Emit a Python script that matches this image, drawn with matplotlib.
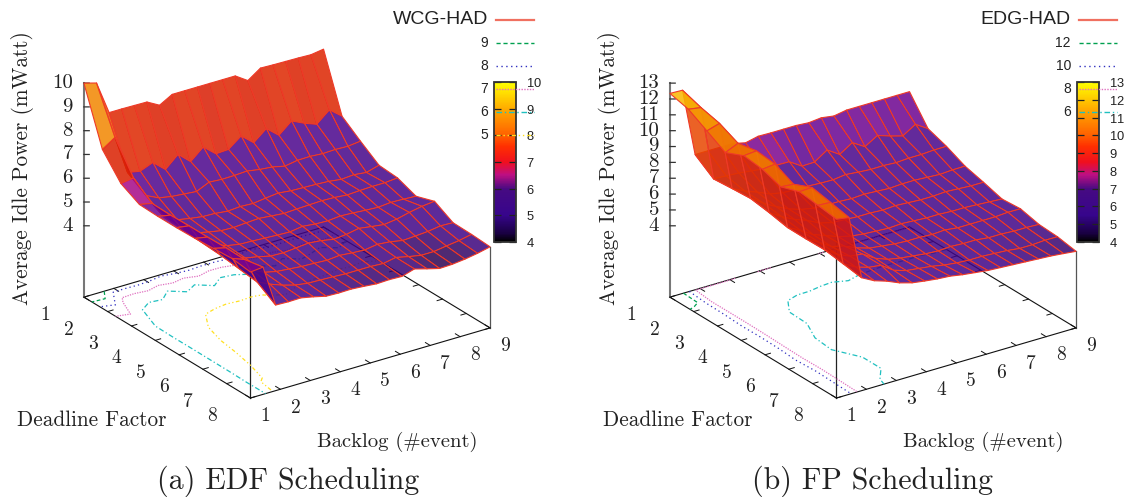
import matplotlib
matplotlib.use('Agg')
import numpy as np
import matplotlib.pyplot as plt
from matplotlib.colors import LinearSegmentedColormap, Normalize
from matplotlib.cm import ScalarMappable
from matplotlib.lines import Line2D
from mpl_toolkits.mplot3d import proj3d

W, H = 1133, 497

deadline = np.linspace(1, 8, 10)
backlog = np.linspace(1, 9, 20)

deadline_ticks = [1, 2, 3, 4, 5, 6, 7, 8]
backlog_ticks = [1, 2, 3, 4, 5, 6, 7, 8, 9]

power_edf = np.array([
    [10.0, 9.85, 8.45, 8.45, 8.44, 8.43, 8.14, 8.44, 8.44, 8.44, 8.44, 8.44, 8.44, 8.09, 8.46, 8.44, 8.43, 8.42, 8.40, 8.48],
    [7.68, 8.03, 6.40, 6.30, 6.51, 6.06, 6.54, 6.08, 6.54, 6.10, 6.13, 6.54, 6.10, 6.54, 6.10, 6.55, 6.30, 6.10, 6.55, 6.13],
    [6.72, 6.80, 5.90, 5.65, 5.55, 5.50, 5.45, 5.69, 5.65, 5.66, 5.69, 5.60, 5.55, 5.43, 5.52, 5.53, 5.49, 5.51, 5.49, 5.55],
    [6.31, 6.20, 5.45, 5.20, 5.10, 5.02, 5.00, 4.94, 4.98, 4.95, 5.02, 5.08, 5.02, 5.00, 4.98, 4.95, 4.88, 4.92, 4.86, 5.01],
    [6.28, 6.18, 5.40, 5.12, 5.00, 4.90, 4.88, 4.92, 4.95, 4.90, 4.85, 4.88, 4.90, 4.92, 4.90, 4.85, 4.88, 4.90, 4.90, 4.95],
    [6.28, 6.20, 5.35, 5.10, 4.90, 4.80, 4.78, 4.75, 4.72, 4.70, 4.78, 4.72, 4.70, 4.75, 4.72, 4.68, 4.65, 4.70, 4.68, 4.65],
    [6.30, 6.20, 5.30, 5.05, 4.85, 4.75, 4.62, 4.60, 4.65, 4.70, 4.65, 4.55, 4.60, 4.70, 4.62, 4.55, 4.62, 4.75, 4.85, 4.91],
    [6.35, 6.22, 5.20, 4.98, 4.72, 4.60, 4.55, 4.50, 4.48, 4.45, 4.50, 4.45, 4.42, 4.50, 4.45, 4.35, 4.38, 4.42, 4.50, 4.48],
    [6.40, 6.20, 5.10, 4.85, 4.65, 4.50, 4.42, 4.40, 4.38, 4.35, 4.35, 4.35, 4.32, 4.42, 4.30, 4.20, 4.20, 4.28, 4.35, 4.46],
    [6.30, 6.35, 4.60, 4.58, 4.59, 4.48, 4.35, 4.33, 4.34, 4.30, 4.25, 4.27, 4.25, 4.41, 4.26, 4.12, 4.14, 4.20, 4.29, 4.41],
])

power_fp = np.array([
    [12.35, 12.32, 8.03, 8.03, 8.03, 8.03, 7.84, 8.02, 8.00, 8.00, 8.00, 7.94, 8.02, 7.90, 8.04, 8.04, 8.04, 8.04, 8.04, 8.04],
    [12.06, 11.93, 7.20, 7.15, 7.10, 7.00, 6.90, 6.90, 6.88, 6.37, 6.39, 6.92, 6.41, 6.92, 6.43, 6.91, 6.64, 6.41, 6.91, 6.41],
    [11.40, 11.64, 7.30, 6.90, 6.60, 6.25, 6.10, 6.05, 6.05, 6.00, 5.98, 6.08, 6.00, 5.94, 5.95, 5.90, 5.95, 5.95, 6.00, 6.00],
    [10.74, 11.09, 7.38, 6.85, 6.40, 6.02, 5.75, 5.60, 5.55, 5.55, 5.50, 5.55, 5.50, 5.45, 5.50, 5.50, 5.45, 5.40, 5.45, 5.46],
    [11.25, 11.32, 7.20, 6.70, 6.30, 6.00, 5.60, 5.40, 5.35, 5.30, 5.30, 5.25, 5.30, 5.25, 5.20, 5.20, 5.25, 5.20, 5.15, 5.15],
    [11.10, 11.19, 6.96, 6.55, 6.05, 5.75, 5.45, 5.25, 5.15, 5.10, 5.05, 5.10, 5.05, 5.00, 5.00, 4.95, 4.95, 4.90, 4.85, 4.80],
    [10.70, 10.63, 6.95, 6.50, 6.00, 5.80, 5.45, 5.20, 5.10, 5.00, 4.95, 4.95, 4.90, 4.95, 4.85, 4.85, 4.85, 4.85, 4.90, 4.89],
    [11.10, 11.13, 6.97, 6.45, 6.10, 6.00, 5.50, 5.20, 5.05, 4.95, 4.85, 4.80, 4.85, 4.80, 4.80, 4.70, 4.70, 4.65, 4.65, 4.61],
    [10.95, 10.90, 6.80, 6.35, 6.10, 6.00, 5.45, 5.20, 5.10, 5.00, 4.85, 4.75, 4.70, 4.70, 4.65, 4.60, 4.50, 4.50, 4.55, 4.54],
    [10.78, 10.65, 6.62, 6.20, 5.94, 5.60, 5.37, 5.25, 5.15, 5.09, 4.95, 4.85, 4.75, 4.70, 4.65, 4.60, 4.55, 4.50, 4.42, 4.33],
])


def ramp(stops):
    return LinearSegmentedColormap.from_list('gp', [(p, (r / 255, g / 255, b / 255)) for p, r, g, b in stops])


palette = ramp([(0, 0, 0, 0), (0.05, 25, 0, 65), (0.167, 55, 5, 140), (0.33, 70, 10, 130), (0.42, 190, 15, 130),
                (0.5, 240, 15, 30), (0.6, 255, 48, 0), (0.667, 255, 96, 0), (0.833, 255, 170, 0), (1, 255, 255, 0)])
# the translucent faces in the reference come out duller than the colorbar
face_palette = ramp([(0, 20, 0, 50), (0.03, 47, 4, 87), (0.07, 63, 4, 134), (0.33, 75, 4, 140), (0.37, 105, 3, 145),
                     (0.43, 185, 10, 130), (0.5, 205, 15, 30), (0.55, 218, 30, 0), (0.65, 232, 70, 0),
                     (0.78, 240, 115, 0), (1, 255, 230, 0)])

contour_styles = [
    ('#00a050', (0, (3, 2))),
    ('#3030c0', (0, (1, 2.5))),
    ('#e070c0', (0, (1, 1))),
    ('#20c0c0', (0, (4, 2, 1, 2))),
    ('#ffe020', (0, (3, 2, 1, 2, 1, 2))),
]

plt.rcParams['font.family'] = 'Liberation Sans'
plt.rcParams['axes.formatter.use_mathtext'] = True
SERIF = 'cmr10'
INK = '#222222'

fig = plt.figure(figsize=(W / 100, H / 100), dpi=100)


def ftext(x, y, s, **kw):
    fig.text(x / W, 1 - y / H, s, ha=kw.pop('ha', 'center'), va=kw.pop('va', 'center'), color=INK, **kw)


def panel(shift, legend_shift, z, zticks, zfloor, key, levels, caption, caption_x):
    ax = fig.add_axes([(50 + shift) / W, 54.5 / H, 461.5 / W, 461.5 / H], projection='3d', computed_zorder=False)
    ax.set_proj_type('ortho')
    ax.view_init(elev=24.9, azim=235.2)
    ax.set_box_aspect((1, 1, 0.8085))
    x0, x1 = backlog[0], backlog[-1]
    y0, y1 = deadline[0], deadline[-1]
    ztop = zticks[-1]
    ax.set_xlim(x0, x1, view_margin=0)
    ax.set_ylim(y1, y0, view_margin=0)
    ax.set_zlim(zfloor, ztop, view_margin=0)
    ax.set_axis_off()

    # floor frame and verticals
    ax.plot([x0, x1, x1, x0, x0], [y0, y0, y1, y1, y0], [zfloor] * 5, color='#111111', lw=0.8, zorder=1)
    ax.plot([x0, x0], [y0, y0], [zfloor, ztop], color='#777777', lw=1.5, zorder=1)
    ax.plot([x0, x0], [y1, y1], [zfloor, z[-1, 0]], color='#222222', lw=0.9, zorder=1)
    ax.plot([x1, x1], [y1, y1], [zfloor, z[-1, -1]], color='#555555', lw=0.9, zorder=1)

    for t in deadline_ticks:
        ax.plot([x0, x0 + 0.18], [t, t], [zfloor, zfloor], color='#111111', lw=0.7, zorder=1)
        ax.plot([x1, x1 - 0.18], [t, t], [zfloor, zfloor], color='#111111', lw=0.7, zorder=1)
    for t in backlog_ticks:
        ax.plot([t, t], [y1, y1 - 0.2], [zfloor, zfloor], color='#111111', lw=0.7, zorder=1)
        ax.plot([t, t], [y0, y0 + 0.2], [zfloor, zfloor], color='#111111', lw=0.7, zorder=1)
    for t in zticks:
        ax.plot([x0, x0 + 0.12], [y0, y0 + 0.073], [t, t], color='#333333', lw=0.9, zorder=1)

    X, Y = np.meshgrid(backlog, deadline)
    styles = contour_styles[:len(levels)]
    for lev, (col, ls) in zip(levels, styles):
        cs = ax.contour(X, Y, z, levels=[lev], zdir='z', offset=zfloor, colors=[col], linewidths=0.9, linestyles=[ls])
        cs.set_zorder(2)

    ax.plot_surface(X, Y, z, rstride=1, cstride=1, cmap=face_palette, norm=Normalize(zticks[0], ztop),
                    edgecolor='#ee3a28', linewidth=0.8, alpha=0.85, shade=False, zorder=3, antialiased=True)

    # tick labels sit at a pixel offset from the projected tick
    M = ax.get_proj()
    def label(x, y, zv, s, dx, dy, size, ha='center'):
        px, py, _ = proj3d.proj_transform(x, y, zv, M)
        ax.annotate(s, (px, py), xytext=(dx, dy), textcoords='offset pixels', ha=ha, va='center',
                    family=SERIF, fontsize=size, color=INK, annotation_clip=False)

    for t in zticks:
        label(x0, y0, t, str(t), -11, 0, 15, ha='right')
    for t in deadline_ticks:
        label(x0, t, zfloor, str(t), -38.5, -18, 14)
    for t in backlog_ticks:
        label(t, y1, zfloor, str(t), 15, -18.5, 14)

    ftext(23 + shift, 168, 'Average Idle Power (mWatt)', rotation=90, family=SERIF, fontsize=15.3)
    ftext(91.5 + shift, 420, 'Deadline Factor', family=SERIF, fontsize=15.3)
    ftext(397.5 + shift, 442, 'Backlog (#event)', family=SERIF, fontsize=14.9)
    ftext(caption_x, 481, caption, family=SERIF, fontsize=21.6)

    # colorbar
    cax = fig.add_axes([(494.3 + legend_shift) / W, 1 - 241.7 / H, 21.7 / W, 159.4 / H])
    cb = fig.colorbar(ScalarMappable(Normalize(zticks[0], ztop), palette), cax=cax, ticks=zticks)
    cb.outline.set_edgecolor('#333333')
    cb.outline.set_linewidth(1.3)
    cax.tick_params(axis='y', which='both', direction='in', left=True, right=True, length=5, width=0.9,
                    color='#222222', pad=7, labelsize=9.3, labelcolor=INK)

    # key entries
    entries = [(key, '#f07060', '-', 1.6, 20, 14)]
    ky = 43
    for lev, (col, ls) in zip(levels, styles):
        entries.append((str(lev), col, ls, 1.0, ky, 10))
        ky += 23
    for name, col, ls, lw, y, size in entries:
        ftext(488 + legend_shift, y, name, ha='right', fontsize=size)
        fig.add_artist(Line2D([(496 + legend_shift) / W, (534 + legend_shift) / W], [1 - y / H] * 2,
                              color=col, ls=ls, lw=lw, zorder=10))


panel(0, 0, power_edf, [4, 5, 6, 7, 8, 9, 10], 1.0, 'WCG-HAD', [9, 8, 7, 6, 5], '(a) EDF Scheduling', 288)
panel(586, 583, power_fp, [4, 5, 6, 7, 8, 9, 10, 11, 12, 13], -0.5, 'EDG-HAD', [12, 10, 8, 6], '(b) FP Scheduling', 873)

fig.savefig('out.png', dpi=100)
